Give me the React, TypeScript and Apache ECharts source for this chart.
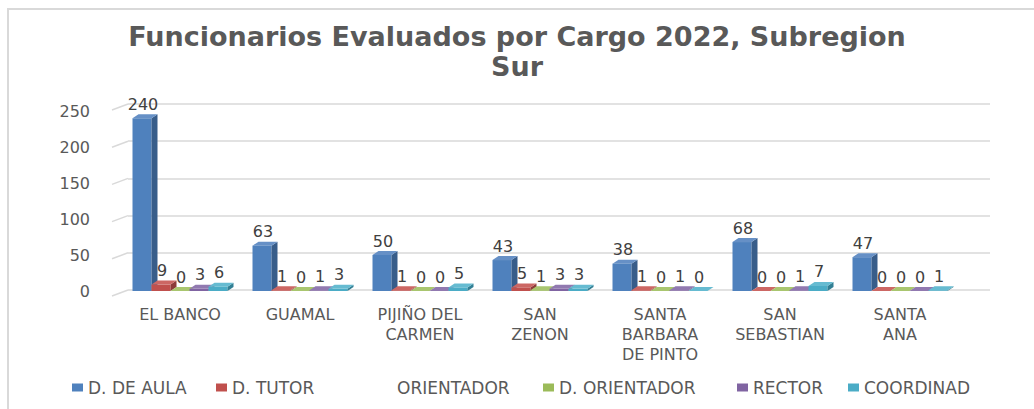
import React, { useEffect, useRef } from 'react';
import * as echarts from 'echarts';

// ---- data ----
const categories = ['EL BANCO', 'GUAMAL', 'PIJIÑO DEL\nCARMEN', 'SAN\nZENON', 'SANTA\nBARBARA\nDE PINTO', 'SAN\nSEBASTIAN', 'SANTA\nANA'];
const dDeAula = [240, 63, 50, 43, 38, 68, 47];
const dTutor = [9, 1, 1, 5, 1, 0, 0];
const dOrientador = [0, 0, 0, 1, 0, 0, 0];
const rector = [3, 1, 0, 3, 1, 1, 0];
const coordinad = [6, 3, 5, 3, 0, 7, 1];
const yTicks = [0, 50, 100, 150, 200, 250];
const titleText = 'Funcionarios Evaluados por Cargo 2022, Subregion\nSur';

// ---- styles ----
const FONT = 'DejaVu Sans';
const BW = 19;
const DX = 6;
const DY = 4;

const barDefs = [
  { name: 'D. DE AULA', values: dDeAula, front: '#4F81BD', side: '#385D8A', top: '#6690C6' },
  { name: 'D. TUTOR', values: dTutor, front: '#C0504D', side: '#8C3A38', top: '#CC6764' },
  { name: 'D. ORIENTADOR', values: dOrientador, front: '#9BBB59', side: '#718A40', top: '#A9C66F' },
  { name: 'RECTOR', values: rector, front: '#8064A2', side: '#5D4977', top: '#9179B0' },
  { name: 'COORDINAD', values: coordinad, front: '#4BACC6', side: '#327F94', top: '#66BBD1' },
];

function makeRenderer(k: number, def: any) {
  return (params: any, api: any) => {
    const i = api.value(0);
    const v = api.value(1);
    const top = api.coord([i, v]);
    const base = api.coord([i, 0]);
    const x0 = top[0] + (k - 2.5) * BW;
    const x1 = x0 + BW;
    const yT = top[1];
    const yB = base[1];
    return {
      type: 'group',
      children: [
        { type: 'rect', shape: { x: x0, y: yT, width: BW, height: yB - yT }, style: { fill: def.front } },
        {
          type: 'polygon',
          shape: { points: [[x1, yT], [x1 + DX, yT - DY], [x1 + DX, yB - DY], [x1, yB]] },
          style: { fill: def.side },
        },
        {
          type: 'polygon',
          shape: { points: [[x0, yT], [x1, yT], [x1 + DX, yT - DY], [x0 + DX, yT - DY]] },
          style: { fill: def.top },
        },
        {
          type: 'text',
          z2: 100,
          x: x0 + BW / 2 + 1,
          y: yT - 6,
          style: {
            text: String(v),
            fill: '#404040',
            font: `16px "${FONT}"`,
            align: 'center',
            verticalAlign: 'bottom',
          },
        },
      ],
    };
  };
}

const legendPos: [string, number][] = [
  ['D. DE AULA', 67],
  ['D. TUTOR', 211],
  ['ORIENTADOR', 376],
  ['D. ORIENTADOR', 538],
  ['RECTOR', 732],
  ['COORDINAD', 843],
];

export default function App() {
  const ref = useRef<HTMLDivElement>(null);
  useEffect(() => {
    if (!ref.current) return;
    const chart = echarts.init(ref.current, null, { renderer: 'svg' });
    const series: any[] = barDefs.map((d, k) => ({
      type: 'custom',
      name: d.name,
      xAxisIndex: 1,
      yAxisIndex: 1,
      itemStyle: { color: d.front },
      encode: { x: 0, y: 1 },
      data: d.values.map((v, i) => [i, v]),
      renderItem: makeRenderer(k, d),
    }));
    series.splice(2, 0, {
      type: 'custom',
      name: 'ORIENTADOR',
      xAxisIndex: 1,
      yAxisIndex: 1,
      itemStyle: { color: 'rgba(0,0,0,0)' },
      data: [],
      renderItem: () => null,
    });
    series.push({
      type: 'custom',
      name: 'walls',
      silent: true,
      xAxisIndex: 0,
      yAxisIndex: 0,
      data: yTicks.map((v) => [0, v]),
      renderItem: (params: any, api: any) => {
        const pt = api.coord([0, api.value(1)]);
        return {
          type: 'line',
          shape: { x1: pt[0] - 16, y1: pt[1] + 6, x2: pt[0], y2: pt[1] },
          style: { stroke: '#d9d9d9', lineWidth: 1.5 },
        };
      },
    });

    chart.setOption({
      animation: false,
      backgroundColor: '#ffffff',
      title: {
        text: titleText,
        left: 'center',
        top: 16,
        textStyle: { fontFamily: FONT, fontWeight: 'bold', fontSize: 27, color: '#595959', lineHeight: 30 },
      },
      graphic: [
        {
          type: 'rect',
          silent: true,
          z: -10,
          shape: { x: 8, y: 9, width: 1100, height: 500 },
          style: { fill: 'none', stroke: '#d9d9d9', lineWidth: 2 },
        },
      ],
      legend: legendPos.map(([name, left]) => ({
        data: [name],
        left,
        top: 374,
        icon: 'rect',
        itemWidth: 11,
        itemHeight: 8,
        itemGap: 0,
        selectedMode: false,
        textStyle: { fontFamily: FONT, fontSize: 17, color: '#595959' },
      })),
      grid: [
        { left: 128, right: 44, top: 104, bottom: 119 },
        { left: 120, right: 74, top: 111, bottom: 118 },
      ],
      xAxis: [
        { gridIndex: 0, type: 'value', min: 0, max: 1, show: false },
        {
          gridIndex: 1,
          type: 'category',
          data: categories,
          axisLine: { show: false },
          axisTick: { show: false },
          axisLabel: {
            interval: 0,
            hideOverlap: false,
            margin: 13,
            fontFamily: FONT,
            fontSize: 16,
            lineHeight: 20,
            color: '#595959',
          },
        },
      ],
      yAxis: [
        {
          gridIndex: 0,
          type: 'value',
          min: 0,
          max: 250,
          interval: 50,
          axisLabel: { show: false },
          axisLine: { show: false },
          axisTick: { show: false },
          splitLine: { lineStyle: { color: '#d9d9d9', width: 1.5 } },
        },
        {
          gridIndex: 1,
          type: 'value',
          min: 0,
          max: 250,
          interval: 50,
          axisLine: { show: false },
          axisTick: { show: false },
          splitLine: { show: false },
          axisLabel: {
            margin: 30,
            padding: [6, 0, 0, 0],
            fontFamily: FONT,
            fontSize: 16,
            color: '#595959',
          },
        },
      ],
      series,
    });
    return () => chart.dispose();
  }, []);
  return <div ref={ref} style={{ position: 'fixed', left: 0, top: 0, width: 1034, height: 409 }} />;
}
